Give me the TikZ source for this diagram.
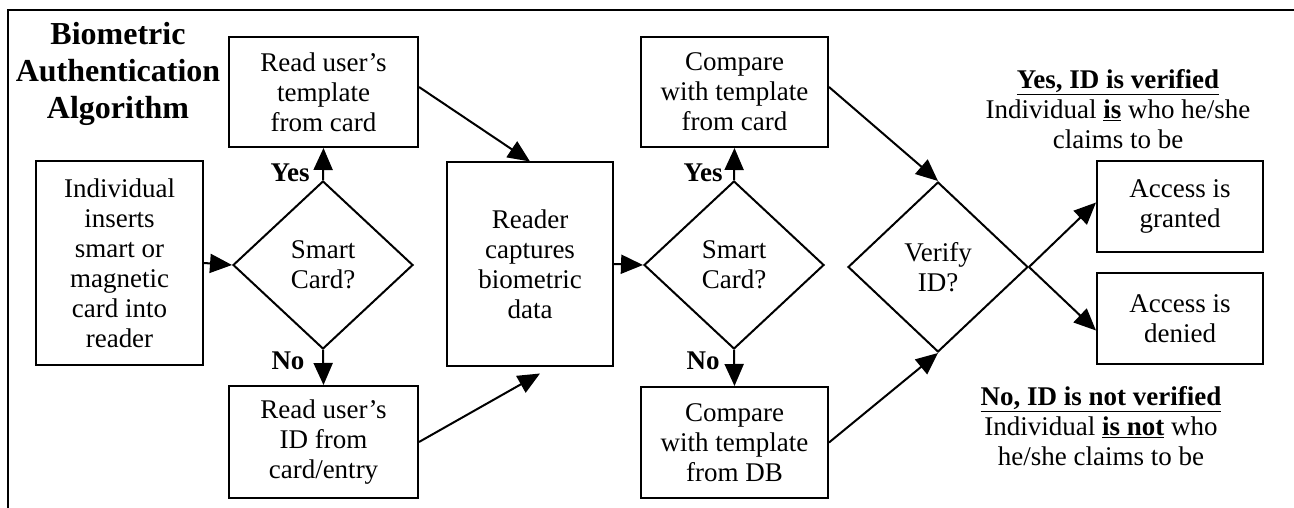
\documentclass[tikz,border=0pt]{standalone}
\usepackage{fontspec}
\setmainfont{Liberation Serif}
\usetikzlibrary{shapes.geometric,arrows.meta}
\begin{document}
\begin{tikzpicture}[x=1pt,y=-1pt,
	font=\fontsize{27}{30}\selectfont,
	line width=2pt,
	>={Triangle[length=22pt,width=19pt]},
	box/.style={draw,align=center,inner sep=0pt},
	decision/.style={draw,diamond,align=center,inner sep=0pt,minimum width=180pt,minimum height=168pt},
	lbl/.style={font=\fontsize{27}{30}\selectfont\bfseries}]
	% Frame
	\useasboundingbox (0,0) rectangle (1294,508);
	\draw (8,508) -- (8,10.5) -- (1294,10.5);
	
	% Title
	\node[font=\fontsize{32}{37}\selectfont\bfseries,align=center] (title) at (118,74) {Biometric\\Authentication\\Algorithm};
	
	% Boxes
	\node[box,minimum width=167pt,minimum height=204pt] (insert) at (119.5,263) {Individual\\inserts\\smart or\\magnetic\\card into\\reader};
	\node[box,minimum width=189pt,minimum height=110pt] (readtpl) at (323.5,92) {Read user’s\\template\\from card};
	\node[box,minimum width=189pt,minimum height=112pt] (readid) at (323.5,442) {Read user’s\\ID from\\card/entry};
	\node[box,minimum width=166pt,minimum height=203pt] (reader) at (530,264) {Reader\\captures\\biometric\\data};
	\node[box,minimum width=187pt,minimum height=110pt] (cmpcard) at (734.5,92) {Compare\\with template\\from card};
	\node[box,minimum width=187pt,minimum height=111pt] (cmpdb) at (734.5,442.5) {Compare\\with template\\from DB};
	\node[box,minimum width=166pt,minimum height=91pt] (granted) at (1180,206.5) {Access is\\granted};
	\node[box,minimum width=166pt,minimum height=91pt] (denied) at (1180,318.5) {Access is\\denied};
	
	% Decisions
	\node[decision] (smart1) at (323,265) {Smart\\Card?};
	\node[decision] (smart2) at (734,265) {Smart\\Card?};
	\node[decision,minimum height=170pt] (verify) at (938,267) {Verify\\ID?};
	
	% Yes / No
	\node[lbl] (yes1) at (290,173) {Yes};
	\node[lbl] (no1) at (288,361) {No};
	\node[lbl] (yes2) at (703,173) {Yes};
	\node[lbl] (no2) at (703,361) {No};
	
	% Arrows
	\draw[->] (insert.east) -- (smart1.west);
	\draw[->] (smart1.north) -- (readtpl.south);
	\draw[->] (smart1.south) -- (readid.north);
	\draw[->] ([yshift=5pt]readtpl.east) -- (reader.north);
	\draw[->] (readid.east) -- ([xshift=10pt,yshift=-7pt]reader.south);
	\draw[->] (reader.east) -- (smart2.west);
	\draw[->] (smart2.north) -- (cmpcard.south);
	\draw[->] (smart2.south) -- (cmpdb.north);
	\draw[->] ([yshift=5pt]cmpcard.east) -- (verify.north);
	\draw[->] (cmpdb.east) -- (verify.south);
	\draw[->] (verify.east) -- ([yshift=4pt]granted.west);
	\draw[->] (verify.east) -- ([yshift=-12pt]denied.west);
	
	% Outcome notes
	\node[align=center] (yesnote) at (1118,109) {\underline{\textbf{Yes, ID is verified}}\\Individual \underline{\textbf{is}} who he/she\\claims to be};
	\node[align=center] (nonote) at (1101,426) {\underline{\textbf{No, ID is not verified}}\\Individual \underline{\textbf{is not}} who\\he/she claims to be};
\end{tikzpicture}
\end{document}
